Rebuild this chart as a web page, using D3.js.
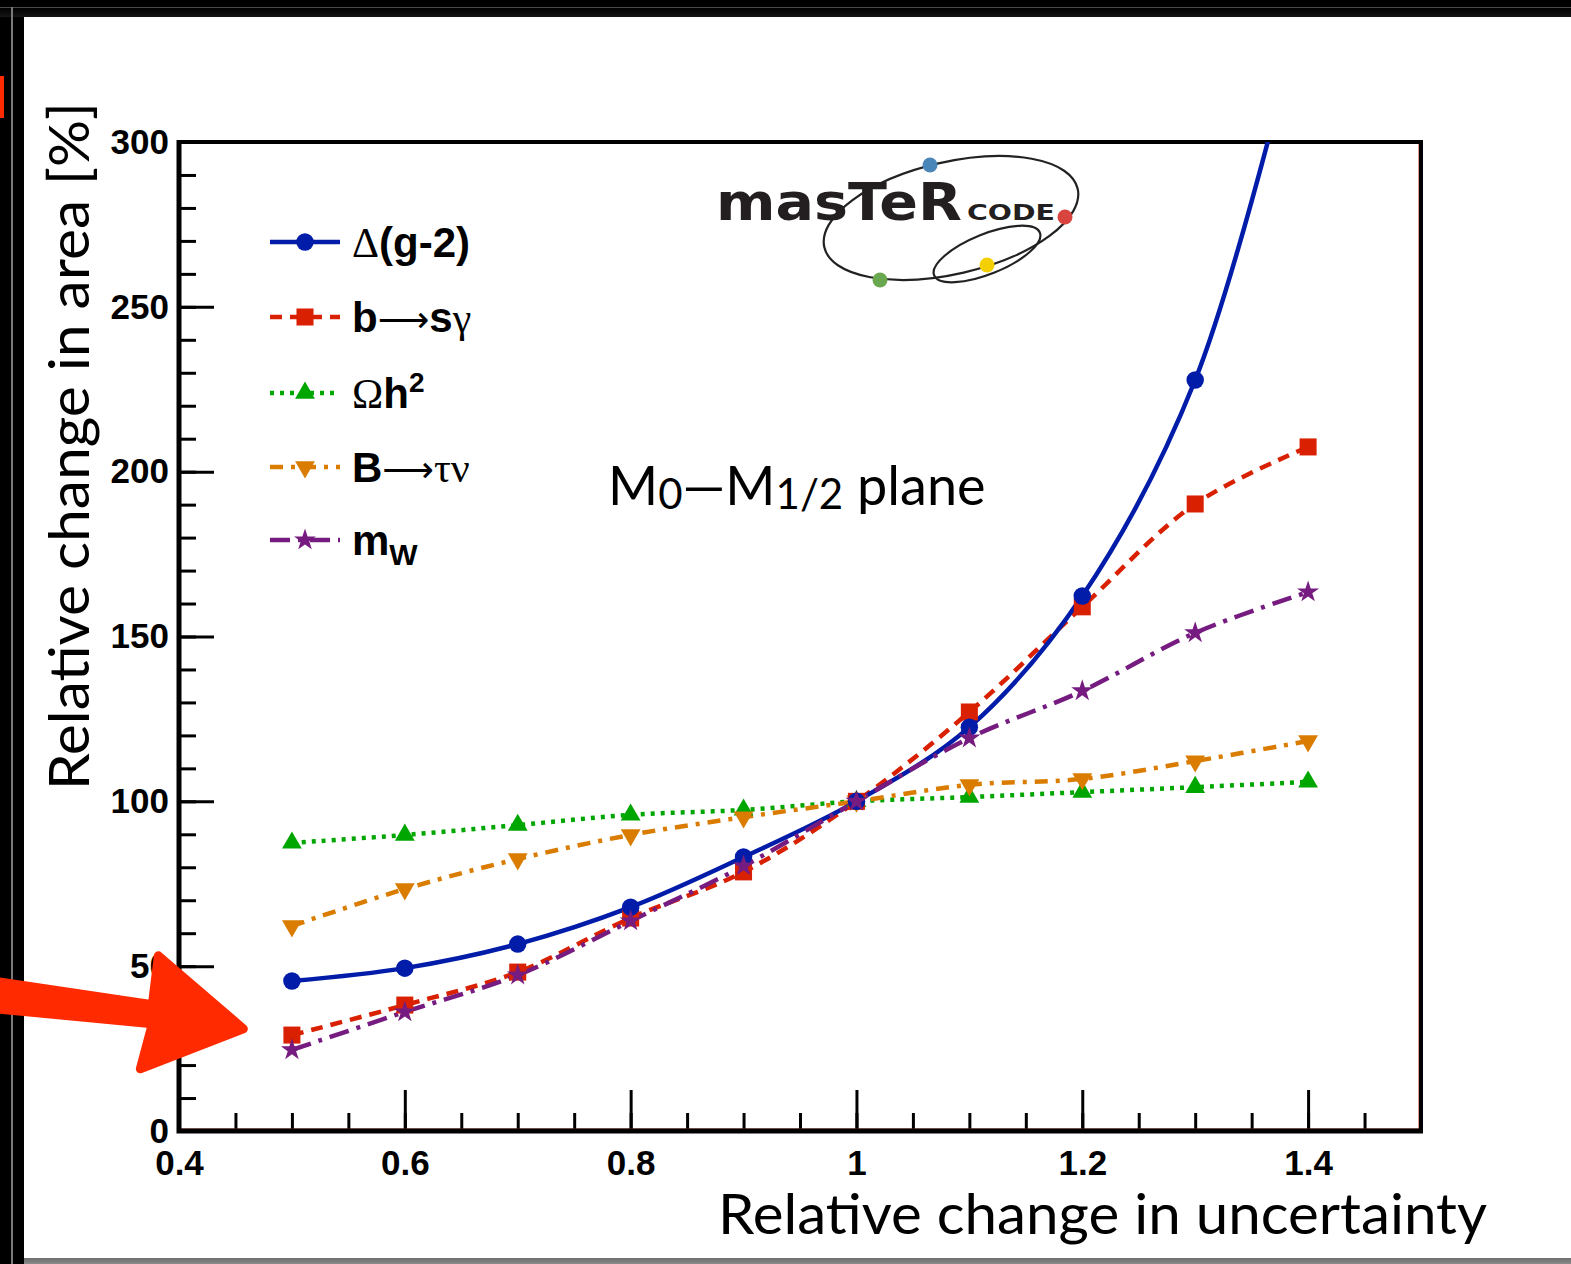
<!DOCTYPE html>
<html>
<head>
<meta charset="utf-8">
<script src="https://cdn.jsdelivr.net/npm/d3@7"></script>
<style>
  html, body { margin: 0; padding: 0; background: #000; }
  svg { display: block; }
</style>
</head>
<body>
<svg id="chart"></svg>
<script>
const width = 1571;
const height = 1264;

// data
const uncertainty = [0.5, 0.6, 0.7, 0.8, 0.9, 1.0, 1.1, 1.2, 1.3, 1.4];
const gm2 = [45.5, 49.4, 56.7, 67.9, 83.1, 100, 122.5, 162.3, 227.8, 348];
const bsg = [29.1, 38.2, 48.2, 64.6, 78.6, 100, 127.1, 159.0, 190.2, 207.5];
const oh2 = [87.4, 89.8, 92.8, 95.9, 97.4, 100, 101.3, 102.8, 104.3, 105.9];
const btn = [62.2, 73.4, 82.5, 89.8, 95.2, 100, 105.0, 106.8, 112.2, 118.3];
const mw = [24.6, 36.1, 47.3, 63.7, 80.4, 100, 119.2, 133.5, 151.1, 163.5];

const xMajor = [0.4, 0.6, 0.8, 1.0, 1.2, 1.4];
const xMinor = d3.range(8, 31).map(i => +(i * 0.05).toFixed(2));
const yMajor = [0, 50, 100, 150, 200, 250, 300];
const yMinor = d3.range(0, 31).map(i => i * 10);

const series = [
    { key: "oh2", values: oh2, colour: "#00a600", dash: "4 6", symbol: d3.symbolTriangle, size: 170, rot: 0 },
    { key: "btn", values: btn, colour: "#d97c00", dash: "13 8 4 8", symbol: d3.symbolTriangle, size: 170, rot: 180 },
    { key: "bsg", values: bsg, colour: "#d92000", dash: "12 8", symbol: d3.symbolSquare, size: 290, rot: 0 },
    { key: "gm2", values: gm2, colour: "#001ca8", dash: null, symbol: d3.symbolCircle, size: 240, rot: 0 },
    { key: "mw", values: mw, colour: "#761c80", dash: "20 8 4 8", symbol: d3.symbolStar, size: 150, rot: 0 }
];

const svg = d3.select("#chart")
    .attr("width", width)
    .attr("height", height)
    .attr("viewBox", `0 0 ${width} ${height}`)

const defs = svg.append("defs")

//frame around the slide
const topGrad = defs.append("linearGradient").attr("id", "topband").attr("x1", 0).attr("x2", 0).attr("y1", 0).attr("y2", 1)
topGrad.append("stop").attr("offset", "0%").attr("stop-color", "#000")
topGrad.append("stop").attr("offset", "100%").attr("stop-color", "#161616")
const botGrad = defs.append("linearGradient").attr("id", "botband").attr("x1", 0).attr("x2", 0).attr("y1", 0).attr("y2", 1)
botGrad.append("stop").attr("offset", "0%").attr("stop-color", "#6e6e6e")
botGrad.append("stop").attr("offset", "100%").attr("stop-color", "#8a8a8a")

svg.append("rect").attr("width", width).attr("height", height).attr("fill", "#000")
svg.append("rect").attr("x", 24).attr("y", 17).attr("width", width - 24).attr("height", 1241).attr("fill", "#fff")
svg.append("rect").attr("x", 0).attr("y", 8).attr("width", width).attr("height", 9).attr("fill", "url(#topband)")
svg.append("rect").attr("x", 0).attr("y", 7).attr("width", width).attr("height", 1).attr("fill", "#4a4a4a")
svg.append("rect").attr("x", 11).attr("y", 7).attr("width", 2).attr("height", height).attr("fill", "#7a7a7a")
svg.append("rect").attr("x", 24).attr("y", 1258).attr("width", width - 24).attr("height", 6).attr("fill", "url(#botband)")
svg.append("rect").attr("x", 0).attr("y", 76).attr("width", 4).attr("height", 42).attr("fill", "#ff2a00")

//scales
const x = d3.scaleLinear().domain([0.4, 1.5]).range([179, 1421])
const y = d3.scaleLinear().domain([0, 300]).range([1131, 142])

defs.append("clipPath").attr("id", "plotclip")
    .append("rect")
    .attr("x", x(0.4)).attr("y", y(300))
    .attr("width", x(1.5) - x(0.4)).attr("height", y(0) - y(300))

const tickFont = "'Liberation Sans', Arial, sans-serif"

//x axis ticks (pointing inward)
svg.append("g")
    .attr("transform", `translate(0, ${y(0)})`)
    .call(d3.axisBottom(x).tickValues(xMinor).tickSizeInner(-18).tickSizeOuter(0).tickFormat(""))
svg.append("g")
    .attr("transform", `translate(0, ${y(0)})`)
    .call(d3.axisBottom(x).tickValues(xMajor).tickSizeInner(-41).tickSizeOuter(0).tickPadding(19)
        .tickFormat(d => d3.format("~g")(d)))

//y axis ticks
svg.append("g")
    .attr("transform", `translate(${x(0.4)}, 0)`)
    .call(d3.axisLeft(y).tickValues(yMinor).tickSizeInner(-17).tickSizeOuter(0).tickFormat(""))
svg.append("g")
    .attr("transform", `translate(${x(0.4)}, 0)`)
    .call(d3.axisLeft(y).tickValues(yMajor).tickSizeInner(-35).tickSizeOuter(0).tickPadding(10))

svg.selectAll(".domain").remove()
svg.selectAll(".tick line").attr("stroke", "#000").attr("stroke-width", 3)
svg.selectAll(".tick text")
    .attr("fill", "#000")
    .attr("font-family", tickFont)
    .attr("font-weight", "bold")
    .attr("font-size", 35)

//plot frame
svg.append("line").attr("x1", x(0.4)).attr("x2", x(1.5)).attr("y1", y(0) - 2).attr("y2", y(0) - 2)
    .attr("stroke", "#c8361c").attr("stroke-width", 1)
svg.append("line").attr("x1", x(1.5) - 2).attr("x2", x(1.5) - 2).attr("y1", y(300)).attr("y2", y(0))
    .attr("stroke", "#c8361c").attr("stroke-width", 1)
svg.append("path")
    .attr("d", `M${x(0.4)},${y(300)}H${x(1.5)}V${y(0)}`)
    .attr("fill", "none").attr("stroke", "#000").attr("stroke-width", 4)
svg.append("path")
    .attr("d", `M${x(0.4)},${y(300) - 2}V${y(0)}H${x(1.5) + 2}`)
    .attr("fill", "none").attr("stroke", "#000").attr("stroke-width", 5)

//curves
const curveGroup = svg.append("g").attr("clip-path", "url(#plotclip)")
const line = d3.line()
    .x((d, i) => x(uncertainty[i]))
    .y(d => y(d))
    .curve(d3.curveCatmullRom.alpha(0.5))

series.forEach(s => {
    curveGroup.append("path")
        .datum(s.values)
        .attr("d", line)
        .attr("fill", "none")
        .attr("stroke", s.colour)
        .attr("stroke-width", 4.5)
        .attr("stroke-dasharray", s.dash)
})

//markers
series.forEach(s => {
    curveGroup.append("g").selectAll("path")
        .data(s.values.map((v, i) => [uncertainty[i], v]))
        .enter().append("path")
        .attr("d", d3.symbol().type(s.symbol).size(s.size))
        .attr("transform", d => `translate(${x(d[0])}, ${y(d[1])}) rotate(${s.rot})`)
        .attr("fill", s.colour)
})

//legend
const legendRows = [
    { s: "gm2", yc: 242, parts: [["Δ", "serif"], ["(g-2)", "bold"]] },
    { s: "bsg", yc: 317, parts: [["b", "bold"], ["⟶", "arrow"], ["s", "bold"], ["γ", "serif"]] },
    { s: "oh2", yc: 393, parts: [["Ω", "serif"], ["h", "bold"], ["2", "sup"]] },
    { s: "btn", yc: 467, parts: [["B", "bold"], ["⟶", "arrow"], ["τν", "serif"]] },
    { s: "mw", yc: 540, parts: [["m", "bold"], ["W", "sub"]] }
];

const legend = svg.append("g")
legendRows.forEach(row => {
    const s = series.find(d => d.key === row.s)
    legend.append("line")
        .attr("x1", 270).attr("x2", 340)
        .attr("y1", row.yc).attr("y2", row.yc)
        .attr("stroke", s.colour).attr("stroke-width", 4.5)
        .attr("stroke-dasharray", s.dash)
    legend.append("path")
        .attr("d", d3.symbol().type(s.symbol).size(s.size)())
        .attr("transform", `translate(305, ${row.yc}) rotate(${s.rot})`)
        .attr("fill", s.colour)
    const t = legend.append("text")
        .attr("x", 352).attr("y", row.yc + 15)
        .attr("font-size", 42)
        .attr("fill", "#000")
    row.parts.forEach(([txt, kind]) => {
        const sp = t.append("tspan").text(txt)
        if (kind === "serif") {
            sp.attr("font-family", "'Liberation Serif', 'DejaVu Serif', serif")
        } else if (kind === "arrow") {
            sp.attr("font-family", "'DejaVu Sans', sans-serif").attr("font-size", 36)
        } else {
            sp.attr("font-family", tickFont).attr("font-weight", "bold")
        }
        if (kind === "sup") sp.attr("font-size", 28).attr("dy", -16)
        if (kind === "sub") sp.attr("font-size", 30).attr("dy", 10)
    })
})

//plane label
const titleFont = "'Gill Sans', 'Gill Sans MT', Lato, 'Open Sans', sans-serif"
const plane = svg.append("text")
    .attr("x", 608).attr("y", 505)
    .attr("font-family", titleFont)
    .attr("font-size", 54)
    .attr("fill", "#000")
plane.append("tspan").text("M")
plane.append("tspan").text("0").attr("font-size", 42).attr("dy", 4)
plane.append("tspan").text("—M").attr("dy", -4)
plane.append("tspan").text("1/2").attr("font-size", 42).attr("dy", 4)
plane.append("tspan").text(" plane").attr("dy", -4)

//axis titles
svg.append("text")
    .attr("x", 718).attr("y", 1234)
    .attr("font-family", titleFont)
    .attr("font-size", 56)
    .attr("textLength", 769)
    .attr("lengthAdjust", "spacingAndGlyphs")
    .attr("fill", "#000")
    .text("Relative change in uncertainty")

svg.append("text")
    .attr("transform", "translate(89, 790) rotate(-90)")
    .attr("font-family", titleFont)
    .attr("font-size", 57)
    .attr("textLength", 688)
    .attr("lengthAdjust", "spacingAndGlyphs")
    .attr("fill", "#000")
    .text("Relative change in area [%]")

//mastercode logo
const logo = svg.append("g")
logo.append("ellipse")
    .attr("transform", "translate(951, 218) rotate(-13)")
    .attr("rx", 130).attr("ry", 56)
    .attr("fill", "none").attr("stroke", "#222").attr("stroke-width", 2.2)
logo.append("text")
    .attr("x", 716).attr("y", 220)
    .attr("font-family", "'DejaVu Sans', sans-serif")
    .attr("font-weight", "bold")
    .attr("font-size", 52)
    .attr("textLength", 246)
    .attr("lengthAdjust", "spacingAndGlyphs")
    .attr("fill", "#231f20")
    .text("masTeR")
logo.append("text")
    .attr("x", 967).attr("y", 220)
    .attr("font-family", "'DejaVu Sans', sans-serif")
    .attr("font-weight", "bold")
    .attr("font-size", 21)
    .attr("textLength", 88)
    .attr("lengthAdjust", "spacingAndGlyphs")
    .attr("fill", "#231f20")
    .text("CODE")
logo.append("ellipse")
    .attr("transform", "translate(987, 254) rotate(-22)")
    .attr("rx", 57).attr("ry", 20)
    .attr("fill", "none").attr("stroke", "#222").attr("stroke-width", 2.2)
const dots = [[930, 165, "#4a86b8"], [1065, 217, "#d9443e"], [880, 280, "#6aa84f"], [987, 265, "#f5d000"]]
logo.selectAll("circle.dot").data(dots).enter().append("circle")
    .attr("cx", d => d[0]).attr("cy", d => d[1]).attr("r", 7.5)
    .attr("fill", d => d[2])

//red annotation arrow, pointing at the lowest points
const tip = [x(0.457), y(31)]
const arrowShape = [[-258, -49], [-91, -24], [-85, -73], [0, 0], [-103, 40], [-91, -5], [-258, -21]]
svg.append("path")
    .attr("d", "M" + arrowShape.map(p => `${tip[0] + p[0]},${tip[1] + p[1]}`).join("L") + "Z")
    .attr("fill", "#ff2a00")
    .attr("stroke", "#ff2a00")
    .attr("stroke-width", 9)
    .attr("stroke-linejoin", "round")
</script>
</body>
</html>
